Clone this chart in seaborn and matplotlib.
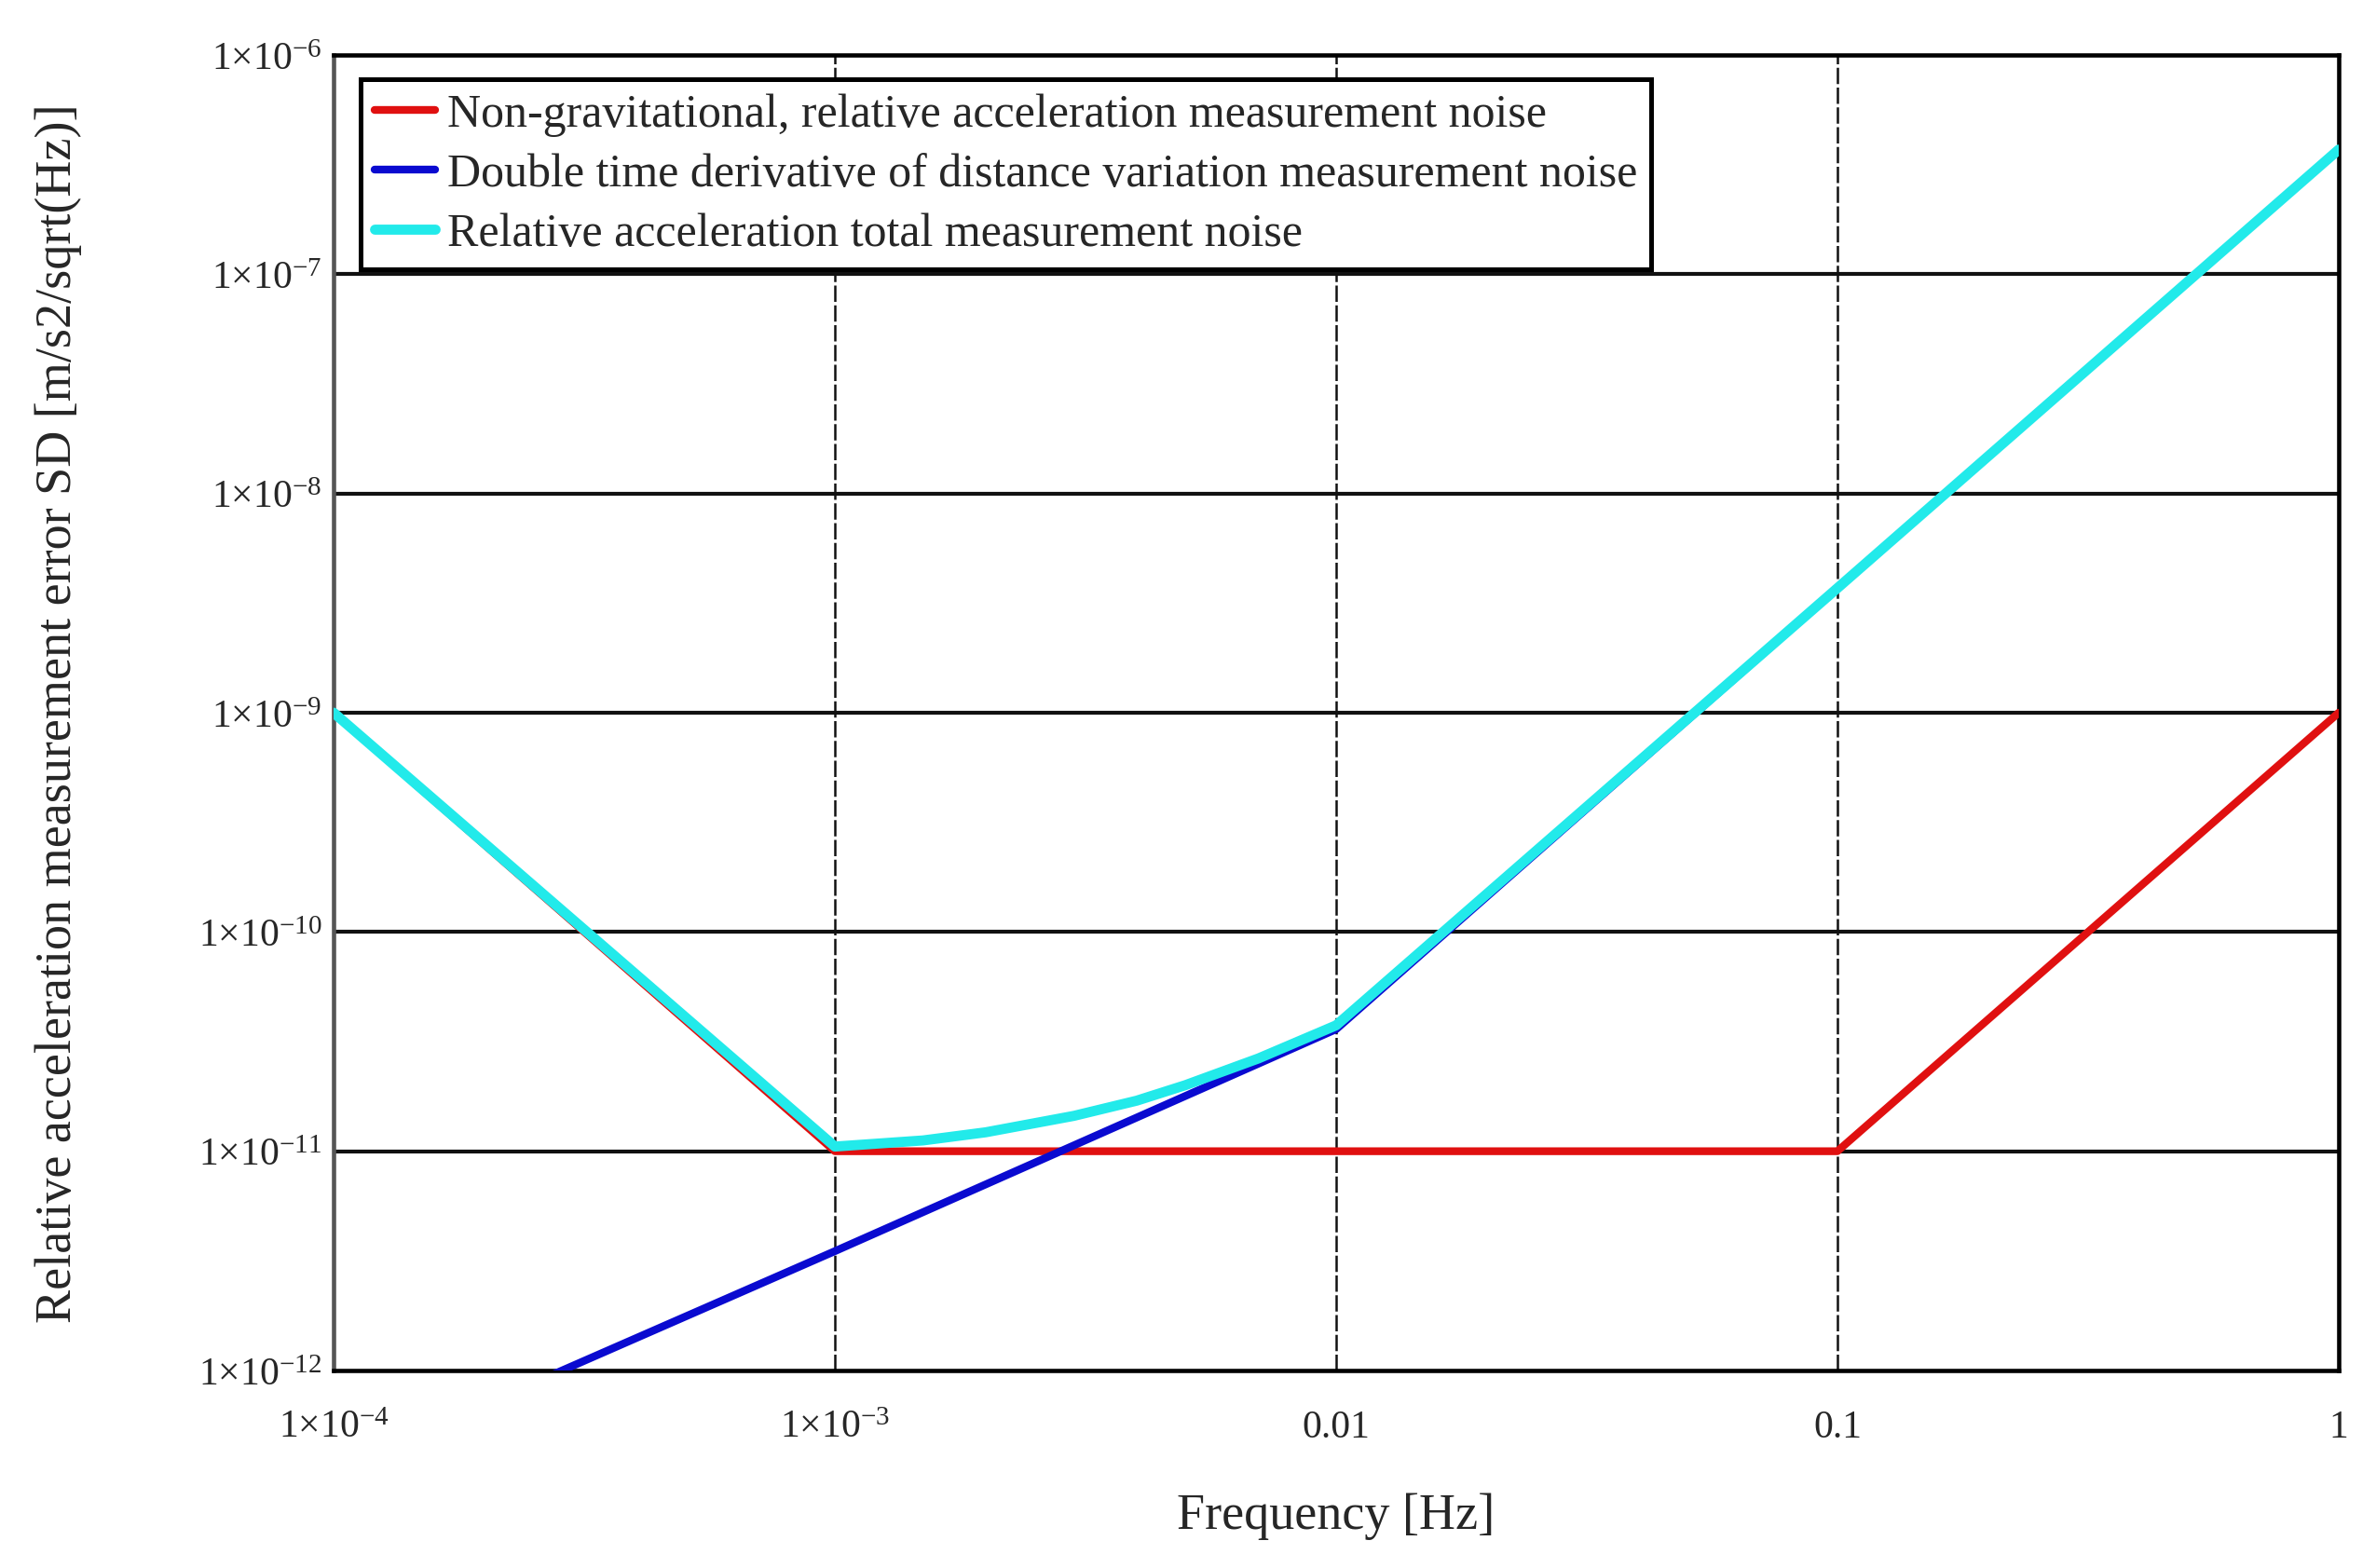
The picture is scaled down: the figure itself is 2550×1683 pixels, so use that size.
import matplotlib
matplotlib.use('Agg')
import matplotlib.pyplot as plt
import seaborn as sns
import pandas as pd

# values (log-log, breakpoints)
freq_ng = [1e-4, 1e-3, 1e-2, 1e-1, 1.0]
acc_ng = [1.0e-9, 1.0e-11, 1.0e-11, 1.0e-11, 1.0e-9]

freq_dd = [1e-4, 1e-3, 1e-2, 1e-1, 1.0]
acc_dd = [3.5e-13, 3.5e-12, 3.6e-11, 3.7e-9, 3.7e-7]

freq_tot = [1e-4, 1e-3, 1.5e-3, 2e-3, 3e-3, 4e-3, 5e-3, 7e-3, 1e-2, 1e-1, 1.0]
acc_tot = [1.0e-9, 1.05e-11, 1.12e-11, 1.22e-11, 1.45e-11, 1.7e-11, 2.0e-11, 2.65e-11, 3.75e-11, 3.7e-9, 3.7e-7]

labels = ['Non-gravitational, relative acceleration measurement noise',
          'Double time derivative of distance variation measurement noise',
          'Relative acceleration total measurement noise']
colors = ['#e01010', '#0a0ad0', '#22eaea']
widths = [2.0, 2.0, 2.6]

xticks = [1e-4, 1e-3, 1e-2, 1e-1, 1.0]
xticklabels = [r'$1{\times}10^{-4}$', r'$1{\times}10^{-3}$', '0.01', '0.1', '1']
yticks = [1e-12, 1e-11, 1e-10, 1e-9, 1e-8, 1e-7, 1e-6]
yticklabels = [r'$1{\times}10^{-%d}$' % k for k in [12, 11, 10, 9, 8, 7, 6]]

sns.set_style('white')
plt.rcParams['font.family'] = ['Liberation Serif', 'DejaVu Serif']
plt.rcParams['mathtext.fontset'] = 'custom'
plt.rcParams['mathtext.rm'] = 'Liberation Serif'
plt.rcParams['mathtext.it'] = 'Liberation Serif:italic'

fig = plt.figure(figsize=(8.5, 5.6133), dpi=300)
ax = fig.add_axes([0.1404, 0.1259, 0.8439, 0.8385])

series = [(freq_ng, acc_ng), (freq_dd, acc_dd), (freq_tot, acc_tot)]
for (f, a), lab, c, w in zip(series, labels, colors, widths):
    df = pd.DataFrame({'f': f, 'a': a})
    sns.lineplot(data=df, x='f', y='a', ax=ax, color=c, lw=w, label=lab, sort=True, zorder=3)

ax.set_xscale('log')
ax.set_yscale('log')
ax.set_xlim(1e-4, 1.0)
ax.set_ylim(1e-12, 1e-6)
ax.set_xticks(xticks)
ax.set_xticklabels(xticklabels)
ax.set_yticks(yticks)
ax.set_yticklabels(yticklabels)
ax.minorticks_off()
ax.tick_params(length=0, labelsize=10)
ax.tick_params(axis='x', pad=10)
ax.tick_params(axis='y', pad=3)

for y in yticks[1:-1]:
    ax.axhline(y, color='#111111', lw=1.0, zorder=1)
for x in xticks[1:-1]:
    ax.axvline(x, color='#111111', lw=0.6, ls=(0, (7, 1.5)), zorder=1)

for s in ax.spines.values():
    s.set_visible(True)
    s.set_color('black')
    s.set_linewidth(1.1)
ax.spines['left'].set_color('#555555')

ax.set_xlabel('Frequency [Hz]', fontsize=13, labelpad=12)
ax.set_ylabel('Relative acceleration measurement error SD [m/s2/sqrt(Hz)]', fontsize=13, labelpad=30)

leg = ax.legend(loc='upper left', bbox_to_anchor=(0.0135, 0.9816), fontsize=12,
                frameon=True, fancybox=False, handlelength=1.3, handletextpad=0.25,
                borderpad=0.3, labelspacing=0.35, borderaxespad=0)
leg.get_frame().set_edgecolor('black')
leg.get_frame().set_linewidth(1.2)
leg.get_frame().set_alpha(1)

fig.savefig('out.png', dpi=300, facecolor='white')
